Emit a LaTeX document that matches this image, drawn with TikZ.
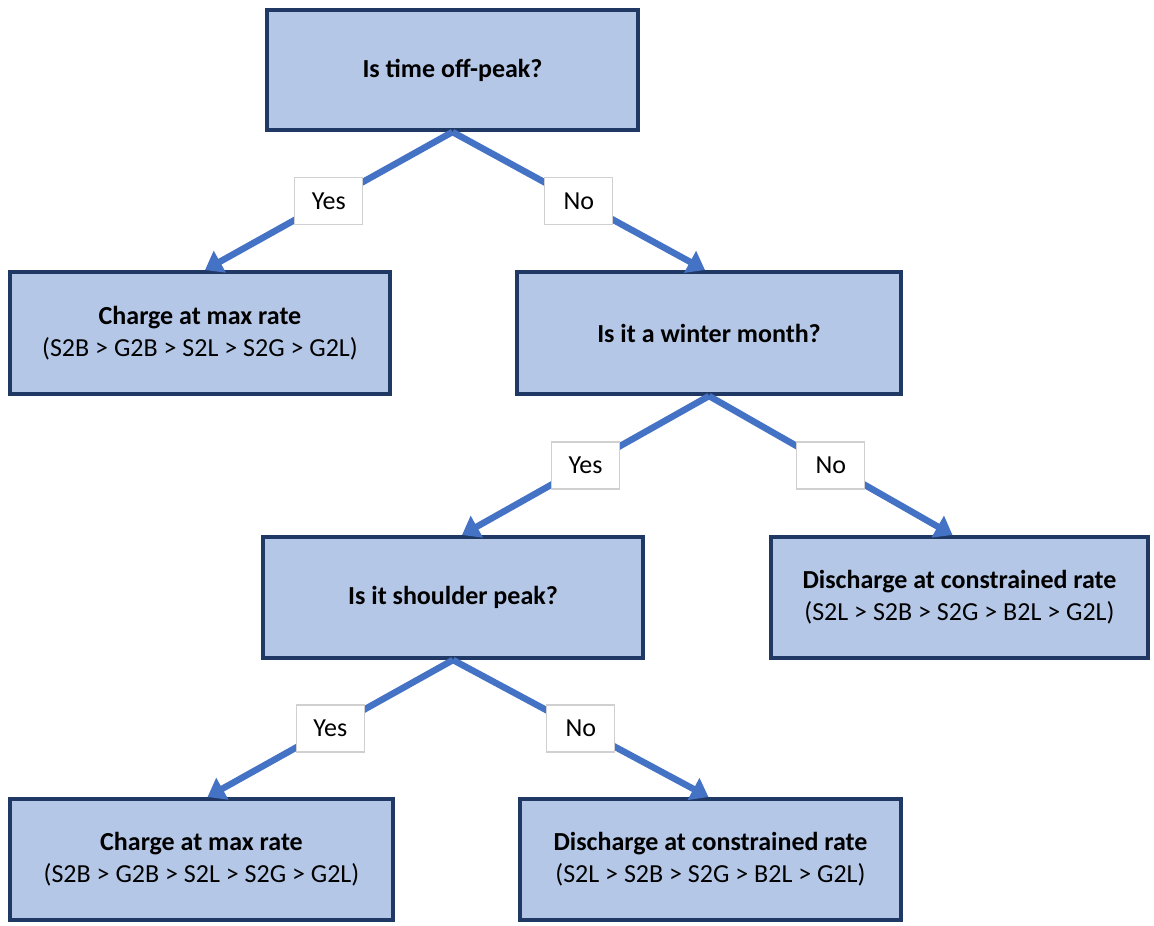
\documentclass[tikz,border=0pt]{standalone}
\usepackage{fontspec}
\setmainfont{Carlito}
\usetikzlibrary{arrows.meta}
\definecolor{boxfill}{HTML}{B4C7E7}
\definecolor{boxline}{HTML}{203864}
\definecolor{arrowblue}{HTML}{4472C4}
\definecolor{labline}{HTML}{D0D0D0}
\begin{document}
\begin{tikzpicture}[x=1pt,y=-1pt,
  decision/.style={draw=boxline, fill=boxfill, line width=4pt, rectangle,
    align=center, inner sep=0pt, font=\fontsize{26}{32}\selectfont},
  branch/.style={draw=arrowblue, line width=6.5pt,
    -{Triangle[length=17pt,width=24pt]}},
  answer/.style={draw=labline, fill=white, line width=1.2pt, rectangle,
    minimum width=68pt, minimum height=47pt, inner sep=0pt,
    font=\fontsize{26}{30}\selectfont}]
\useasboundingbox (0,0) rectangle (1154,926);

% decision boxes
\node[decision, minimum width=371pt, minimum height=120pt] (q1) at (452.5,70)
  {\textbf{Is time off-peak?}};
\node[decision, minimum width=380pt, minimum height=122pt] (a1) at (200,333)
  {\textbf{Charge at max rate}\\(S2B > G2B > S2L > S2G > G2L)};
\node[decision, minimum width=384pt, minimum height=122pt] (q2) at (709,333)
  {\textbf{Is it a winter month?}};
\node[decision, minimum width=380pt, minimum height=121pt] (q3) at (453,597.5)
  {\textbf{Is it shoulder peak?}};
\node[decision, minimum width=377pt, minimum height=121pt] (a2) at (959.5,597.5)
  {\textbf{Discharge at constrained rate}\\(S2L > S2B > S2G > B2L > G2L)};
\node[decision, minimum width=383pt, minimum height=121pt] (a3) at (201.5,859.5)
  {\textbf{Charge at max rate}\\(S2B > G2B > S2L > S2G > G2L)};
\node[decision, minimum width=381pt, minimum height=121pt] (a4) at (710.5,859.5)
  {\textbf{Discharge at constrained rate}\\(S2L > S2B > S2G > B2L > G2L)};

% branches with their answers
\draw[branch] (q1.south) -- node[answer] (y1) {Yes} ([xshift=5pt]a1.north);
\draw[branch] (q1.south) -- node[answer] (n1) {No} ([xshift=-4pt]q2.north);
\draw[branch] (q2.south) -- node[answer] (y2) {Yes} ([xshift=9pt]q3.north);
\draw[branch] (q2.south) -- node[answer] (n2) {No} ([xshift=-7pt]a2.north);
\draw[branch] (q3.south) -- node[answer] (y3) {Yes} ([xshift=6pt]a3.north);
\draw[branch] (q3.south) -- node[answer] (n3) {No} ([xshift=-2pt]a4.north);
\end{tikzpicture}
\end{document}
